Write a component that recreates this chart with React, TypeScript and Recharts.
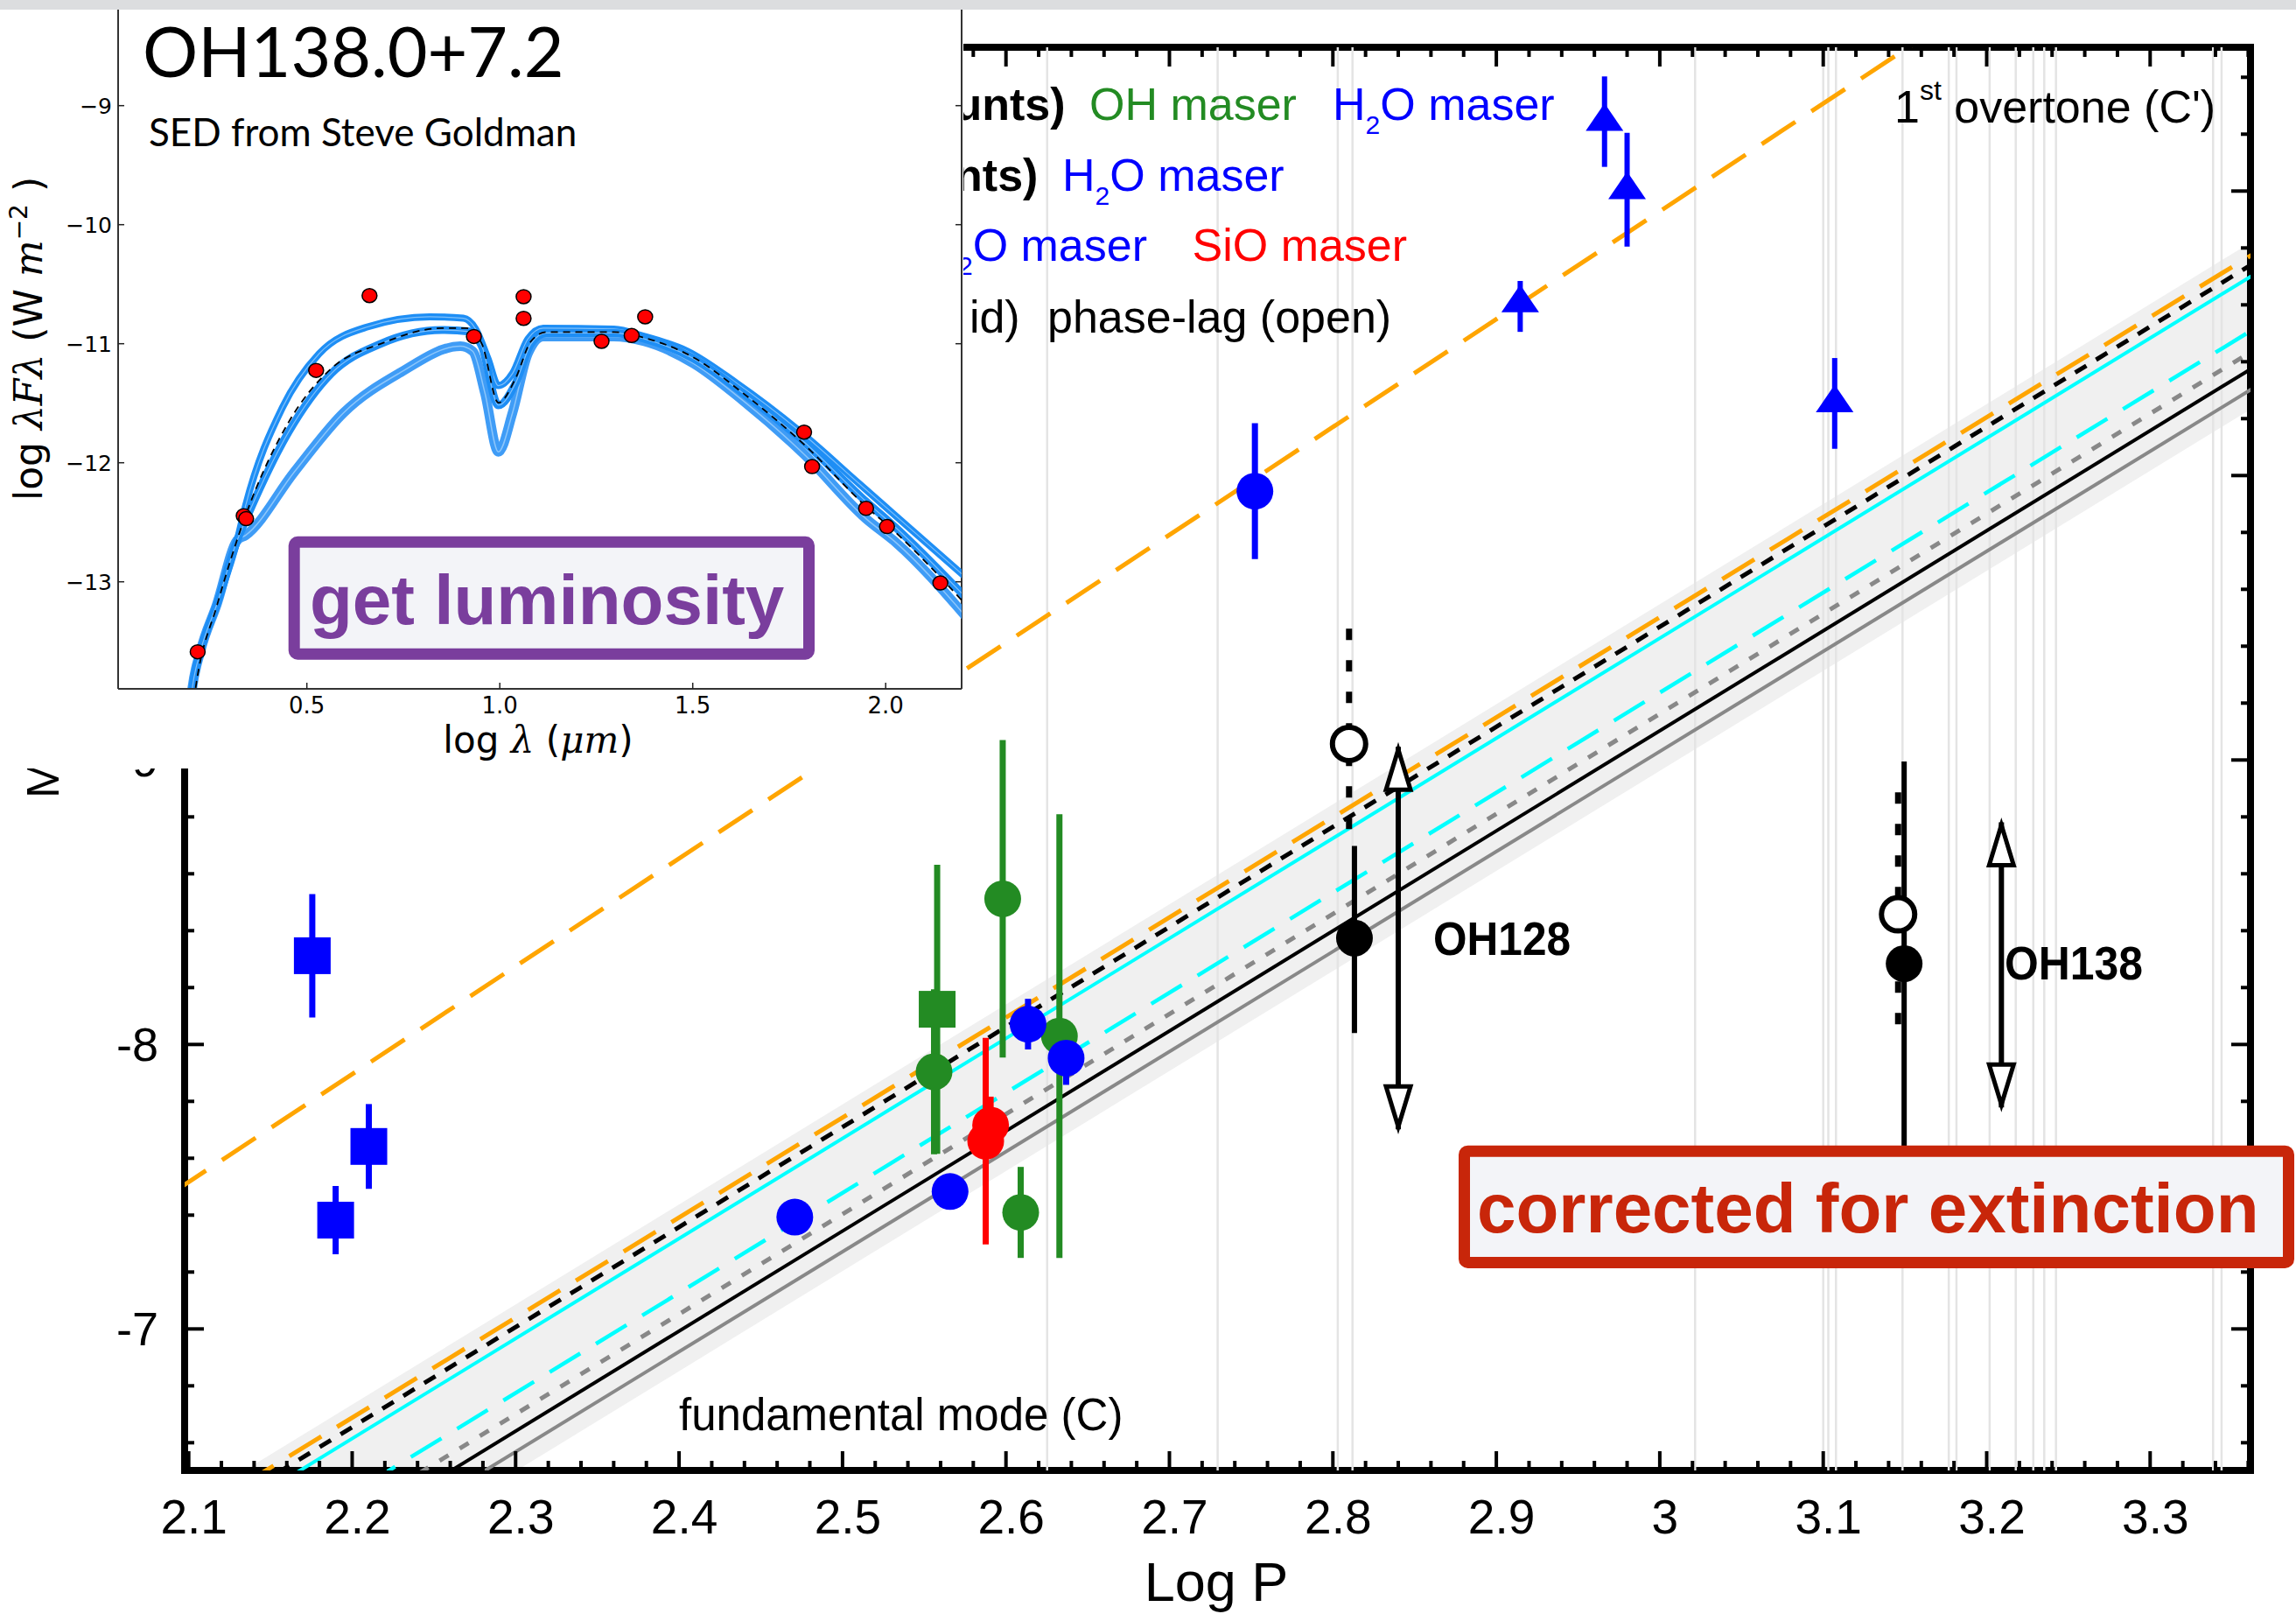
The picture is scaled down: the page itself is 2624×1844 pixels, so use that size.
import React from "react";
import {
  ComposedChart,
  Line,
  Scatter,
  Area,
  XAxis,
  YAxis,
  ErrorBar,
  ReferenceArea,
  ReferenceLine,
} from "recharts";

const SANS = "'Liberation Sans', Arial, Helvetica, sans-serif";
const DEJAVU = "'DejaVu Sans', sans-serif";
const SERIF_IT = "'DejaVu Serif', serif";
const LATO = "Lato, 'Open Sans', sans-serif";

// ---------------- main chart: axes ----------------
const X_DOMAIN: [number, number] = [2.0975, 3.3614];
const Y_DOMAIN: [number, number] = [-11.5055, -6.5025];

const xTicks = [
  2.1, 2.12, 2.14, 2.16, 2.18, 2.2, 2.22, 2.24, 2.26, 2.28, 2.3, 2.32, 2.34, 2.36, 2.38,
  2.4, 2.42, 2.44, 2.46, 2.48, 2.5, 2.52, 2.54, 2.56, 2.58, 2.6, 2.62, 2.64, 2.66, 2.68,
  2.7, 2.72, 2.74, 2.76, 2.78, 2.8, 2.82, 2.84, 2.86, 2.88, 2.9, 2.92, 2.94, 2.96, 2.98,
  3.0, 3.02, 3.04, 3.06, 3.08, 3.1, 3.12, 3.14, 3.16, 3.18, 3.2, 3.22, 3.24, 3.26, 3.28,
  3.3, 3.32, 3.34, 3.36,
];
const xLabelValues = [2.1, 2.2, 2.3, 2.4, 2.5, 2.6, 2.7, 2.8, 2.9, 3.0, 3.1, 3.2, 3.3];
const xLabelTexts = ["2.1", "2.2", "2.3", "2.4", "2.5", "2.6", "2.7", "2.8", "2.9", "3", "3.1", "3.2", "3.3"];

const yTicks = [
  -11.4, -11.2, -11, -10.8, -10.6, -10.4, -10.2, -10, -9.8, -9.6, -9.4, -9.2, -9, -8.8,
  -8.6, -8.4, -8.2, -8, -7.8, -7.6, -7.4, -7.2, -7, -6.8, -6.6,
];
const yMajorValues = [-11, -10, -9, -8, -7];
// -10 and -11 labels sit under the inset in the reference, only these are drawn
const yLabelValues = [-9, -8, -7];
const yLabelTexts = ["-9", "-8", "-7"];

// light vertical lines (periods)
const periodGrid = [
  2.6252, 2.7295, 2.803, 2.812, 3.0216, 3.1, 3.1031, 3.1078, 3.1485, 3.1768, 3.1815,
  3.2018, 3.2178, 3.2285, 3.2352, 3.2424, 3.3385, 3.3437,
];
const gridTop = -11.6;
const gridBottom = -6.4;

// grey PL band
const bandLogP = [2.09, 3.37];
const bandBright = [-6.3474, -10.849];
const bandFaint = [-5.7614, -10.263];

// PL relations (start / end points)
const plStartLogP = [2.1323, 2.1418, 2.1532, 2.2076, 2.2288, 2.2458, 2.2664];
const plStartMag = [-6.45, -6.45, -6.45, -6.45, -6.45, -6.45, -6.45];
const plEndLogP = [3.37, 3.37, 3.37, 3.37, 3.37, 3.37, 3.37];
const plEndMag = [-10.803, -10.7696, -10.7295, -10.5382, -10.4637, -10.4039, -10.3314];

// 1st overtone relation
const overtoneLogP = [2.09, 3.16];
const overtoneMag = [-7.4786, -11.5353];

// data points
const blueSqLogP = [2.1756, 2.1899, 2.2102];
const blueSqMag = [-8.312, -7.3825, -7.6415];
const blueSqErr = [0.217, 0.12, 0.149];

const greenSqLogP = [2.5579];
const greenSqMag = [-8.1237];
const greenSqErr = [0.508];

const greenCircLogP = [2.556, 2.598, 2.609, 2.6327];
const greenCircMag = [-7.904, -8.512, -7.4096, -8.0296];
const greenCircErr = [0.29, 0.558, 0.16, 0.78];

const blueCircLogP = [2.4708, 2.5658, 2.6135, 2.6368, 2.7523];
const blueCircMag = [-7.393, -7.483, -8.0714, -7.952, -9.945];
const blueCircErr = [0, 0, 0.089, 0.094, 0.239];

const redCircLogP = [2.5906, 2.5876];
const redCircMag = [-7.7166, -7.66];
const redCircErr = [0.1, 0.363];

const triLogP = [2.9662, 2.98, 2.9146, 3.107];
const triMag = [-11.259, -11.019, -10.622, -10.27];
const triErrBright = [0.144, 0.186, 0.062, 0.143];
const triErrFaint = [0.174, 0.214, 0.117, 0.176];

// OH128, OH138 (filled = solid bars, open = dashed bars)
const filledLogP = [2.8132, 3.1495];
const filledMag = [-8.374, -8.284];
const filledBarBright = [-8.698, -8.995];
const filledBarFaint = [-8.04, -7.573];

const openLogP = [2.8099, 3.1458];
const openMag = [-9.0566, -8.4575];
const openBarBright = [-9.4615, -8.886];
const openBarFaint = [-8.708, -8.041];

const arrowLogP = [2.84, 3.209];
const arrowBright = [-9.046, -8.781];
const arrowFaint = [-7.7015, -7.779];

// ---------------- inset (SED) ----------------
const I_X_DOMAIN: [number, number] = [0.0109, 2.1968];
const I_Y_DOMAIN: [number, number] = [-13.8993, -8.1934];
const iXTicks = [0.5, 1.0, 1.5, 2.0];
const iXLabels = ["0.5", "1.0", "1.5", "2.0"];
const iYTicks = [-13, -12, -11, -10, -9];
const iYLabels = ["\u221213", "\u221212", "\u221211", "\u221210", "\u22129"];

const sedLogLam = [0.217, 0.3363, 0.3426, 0.524, 0.6624, 0.9329, 1.0617, 1.0617, 1.2637, 1.3417, 1.3767, 1.7886, 1.8093, 1.9492, 2.0034, 2.1417];
const sedFlux = [-13.588, -12.445, -12.47, -11.224, -10.596, -10.939, -10.605, -10.787, -10.98, -10.931, -10.774, -11.743, -12.032, -12.383, -12.536, -13.01];

const modelUpperX = [0.19, 0.2033, 0.2239, 0.2669, 0.3194, 0.341, 0.4365, 0.532, 0.659, 0.818, 0.9057, 0.9376, 0.9694, 0.9964, 1.0331, 1.0728, 1.1125, 1.2955, 1.375, 1.4864, 1.6136, 1.7728, 1.9318, 2.0114, 2.21];
const modelUpperY = [-14.3, -13.889, -13.588, -13.188, -12.652, -12.363, -11.538, -11.083, -10.857, -10.774, -10.786, -10.877, -11.125, -11.352, -11.249, -10.96, -10.869, -10.877, -10.939, -11.063, -11.331, -11.723, -12.177, -12.404, -12.97];

const modelMidX = [0.19, 0.2033, 0.2239, 0.2669, 0.3194, 0.341, 0.4524, 0.5637, 0.6909, 0.8501, 0.9215, 0.9535, 0.9964, 1.041, 1.0807, 1.1204, 1.2955, 1.375, 1.5023, 1.6295, 1.7886, 1.9477, 2.0272, 2.21];
const modelMidY = [-14.3, -13.889, -13.588, -13.188, -12.652, -12.486, -11.743, -11.249, -11.001, -10.885, -10.898, -11.021, -11.517, -11.331, -11.001, -10.91, -10.91, -10.96, -11.125, -11.413, -11.826, -12.321, -12.548, -13.14];

const modelLowX = [0.19, 0.2033, 0.2239, 0.2669, 0.3194, 0.341, 0.4683, 0.5955, 0.7387, 0.8977, 0.9297, 0.9614, 0.9964, 1.0331, 1.0728, 1.1125, 1.2955, 1.375, 1.5023, 1.6295, 1.7886, 1.9477, 2.0272, 2.21];
const modelLowY = [-14.3, -13.889, -13.588, -13.188, -12.652, -12.61, -12.074, -11.579, -11.249, -11.021, -11.063, -11.413, -11.909, -11.579, -11.083, -10.939, -10.939, -10.98, -11.166, -11.476, -11.929, -12.466, -12.672, -13.3];

const bestFitX = [0.195, 0.2138, 0.2669, 0.341, 0.4524, 0.5637, 0.6909, 0.8501, 0.9136, 0.9535, 0.9964, 1.041, 1.0807, 1.1204, 1.2955, 1.375, 1.5023, 1.6295, 1.7886, 1.9477, 2.0272, 2.21];
const bestFitY = [-14.3, -13.848, -13.2, -12.445, -11.661, -11.207, -11.001, -10.869, -10.869, -11.001, -11.496, -11.29, -10.98, -10.902, -10.902, -10.951, -11.116, -11.413, -11.847, -12.363, -12.59, -13.2];

// ---------------- layout constants ----------------
const W = 2624;
const H = 1844;
const PL = 211, PR = 2572, PT = 54, PB = 1680;
const IL = 135, IR = 1099, IT = 11, IB = 787;

const close = (a: number, b: number) => Math.abs(a - b) < 1e-6;
const pts = (xs: number[], ys: number[]) => xs.map((x, i) => ({ x, y: ys[i] }));

const plStyles = [
  { stroke: "#ffa500", width: 5, dash: "43 21" },
  { stroke: "#000000", width: 5, dash: "15 13" },
  { stroke: "#00ffff", width: 4, dash: undefined },
  { stroke: "#00ffff", width: 4.5, dash: "41 21" },
  { stroke: "#888888", width: 5, dash: "12 15" },
  { stroke: "#000000", width: 4, dash: undefined },
  { stroke: "#888888", width: 4, dash: undefined },
];

const BLUE = "#0000ff";
const GREEN = "#238b23";
const RED = "#ff0000";

function MainXTick(props: any) {
  const { x, payload } = props;
  const v = payload.value;
  const idx = xLabelValues.findIndex((t) => close(t, v));
  const major = idx >= 0;
  const len = major ? 22 : 11;
  return (
    <g>
      <line x1={x} x2={x} y1={PB} y2={PB - len} stroke="#000" strokeWidth={4} />
      <line x1={x} x2={x} y1={PT} y2={PT + len} stroke="#000" strokeWidth={4} />
      {major && (
        <text x={x + 6} y={1752} textAnchor="middle" fontSize={55} fontFamily={SANS} fill="#000">
          {xLabelTexts[idx]}
        </text>
      )}
    </g>
  );
}

function MainYTick(props: any) {
  const { y, payload } = props;
  const major = yMajorValues.some((t) => close(t, payload.value));
  const idx = yLabelValues.findIndex((t) => close(t, payload.value));
  const len = major ? 22 : 11;
  return (
    <g>
      <line x1={PL} x2={PL + len} y1={y} y2={y} stroke="#000" strokeWidth={4} />
      <line x1={PR} x2={PR - len} y1={y} y2={y} stroke="#000" strokeWidth={4} />
      {idx >= 0 && (
        <text x={181} y={y + 19} textAnchor="end" fontSize={54} fontFamily={SANS} fill="#000">
          {yLabelTexts[idx]}
        </text>
      )}
    </g>
  );
}

function InsetXTick(props: any) {
  const { x, payload } = props;
  const idx = iXTicks.findIndex((t) => close(t, payload.value));
  return (
    <g>
      <line x1={x} x2={x} y1={IB} y2={IB - 7} stroke="#222" strokeWidth={1.5} />
      <text x={x} y={815} textAnchor="middle" fontSize={26} fontFamily={DEJAVU} fill="#000">
        {iXLabels[idx]}
      </text>
    </g>
  );
}

function InsetYTick(props: any) {
  const { y, payload } = props;
  const idx = iYTicks.findIndex((t) => close(t, payload.value));
  return (
    <g>
      <line x1={IL} x2={IL + 7} y1={y} y2={y} stroke="#222" strokeWidth={1.5} />
      <line x1={IR} x2={IR - 7} y1={y} y2={y} stroke="#222" strokeWidth={1.5} />
      <text x={128} y={y + 9} textAnchor="end" fontSize={25} fontFamily={DEJAVU} fill="#000">
        {iYLabels[idx]}
      </text>
    </g>
  );
}

const circle = (fill: string, r = 21) => (p: any) => <circle cx={p.cx} cy={p.cy} r={r} fill={fill} />;
const square = (fill: string) => (p: any) => <rect x={p.cx - 21} y={p.cy - 21} width={42} height={42} fill={fill} />;
const triangle = (p: any) => (
  <polygon points={`${p.cx},${p.cy - 16} ${p.cx - 21.5},${p.cy + 15.5} ${p.cx + 21.5},${p.cy + 15.5}`} fill={BLUE} />
);
const openCircle = (p: any) => <circle cx={p.cx} cy={p.cy} r={19} fill="#fff" stroke="#000" strokeWidth={6} />;
const upHead = (p: any) => (
  <polygon points={`${p.cx},${p.cy + 3} ${p.cx - 14},${p.cy + 49} ${p.cx + 14},${p.cy + 49}`} fill="#fff" stroke="#000" strokeWidth={5} />
);
const downHead = (p: any) => (
  <polygon points={`${p.cx},${p.cy - 3} ${p.cx - 14},${p.cy - 49} ${p.cx + 14},${p.cy - 49}`} fill="#fff" stroke="#000" strokeWidth={5} />
);

function MainChart() {
  const withErr = (xs: number[], ys: number[], es: number[]) => xs.map((x, i) => ({ x, y: ys[i], e: es[i] }));
  const triData = triLogP.map((x, i) => ({ x, y: triMag[i], e: [triErrBright[i], triErrFaint[i]] }));
  return (
    <ComposedChart width={W} height={H} margin={{ top: PT, right: W - PR, bottom: H - PB - 100, left: PL - 150 }}>
      <XAxis
        dataKey="x"
        type="number"
        domain={X_DOMAIN}
        allowDataOverflow
        ticks={xTicks}
        interval={0}
        tick={(p: any) => <MainXTick {...p} />}
        tickLine={false}
        axisLine={false}
        height={100}
      />
      <YAxis
        type="number"
        domain={Y_DOMAIN}
        reversed
        allowDataOverflow
        ticks={yTicks}
        interval={0}
        tick={(p: any) => <MainYTick {...p} />}
        tickLine={false}
        axisLine={false}
        width={150}
      />
      <Area
        data={bandLogP.map((x, i) => ({ x, band: [bandFaint[i], bandBright[i]] }))}
        dataKey="band"
        type="linear"
        stroke="none"
        fill="#f0f0f0"
        fillOpacity={1}
        isAnimationActive={false}
        activeDot={false}
      />
      {periodGrid.map((g, i) => (
        <Line
          key={"grid" + i}
          data={[{ x: g, y: gridTop }, { x: g, y: gridBottom }]}
          dataKey="y"
          type="linear"
          stroke="#e4e4e4"
          strokeWidth={2.5}
          dot={false}
          activeDot={false}
          isAnimationActive={false}
        />
      ))}
      {plStartLogP.map((x0, i) => (
        <Line
          key={"pl" + i}
          data={[{ x: x0, y: plStartMag[i] }, { x: plEndLogP[i], y: plEndMag[i] }]}
          dataKey="y"
          type="linear"
          stroke={plStyles[i].stroke}
          strokeWidth={plStyles[i].width}
          strokeDasharray={plStyles[i].dash}
          dot={false}
          activeDot={false}
          isAnimationActive={false}
        />
      ))}
      <Line
        data={pts(overtoneLogP, overtoneMag)}
        dataKey="y"
        type="linear"
        stroke="#ffa500"
        strokeWidth={5}
        strokeDasharray="46 22"
        dot={false}
        activeDot={false}
        isAnimationActive={false}
      />
      {filledLogP.map((x, i) => (
        <Line
          key={"fb" + i}
          data={[{ x, y: filledBarBright[i] }, { x, y: filledBarFaint[i] }]}
          dataKey="y"
          type="linear"
          stroke="#000"
          strokeWidth={6}
          dot={false}
          activeDot={false}
          isAnimationActive={false}
        />
      ))}
      {openLogP.map((x, i) => (
        <Line
          key={"ob" + i}
          data={[{ x, y: openBarBright[i] }, { x, y: openBarFaint[i] }]}
          dataKey="y"
          type="linear"
          stroke="#000"
          strokeWidth={7}
          strokeDasharray="13 23"
          dot={false}
          activeDot={false}
          isAnimationActive={false}
        />
      ))}
      {arrowLogP.map((x, i) => (
        <Line
          key={"ar" + i}
          data={[{ x, y: arrowBright[i] }, { x, y: arrowFaint[i] }]}
          dataKey="y"
          type="linear"
          stroke="#000"
          strokeWidth={6}
          dot={false}
          activeDot={false}
          isAnimationActive={false}
        />
      ))}
      <Scatter data={withErr(greenSqLogP, greenSqMag, greenSqErr)} dataKey="y" shape={square(GREEN)} isAnimationActive={false}>
        <ErrorBar dataKey="e" direction="y" width={0} stroke={GREEN} strokeWidth={7} isAnimationActive={false} />
      </Scatter>
      <Scatter data={withErr(greenCircLogP, greenCircMag, greenCircErr)} dataKey="y" shape={circle(GREEN)} isAnimationActive={false}>
        <ErrorBar dataKey="e" direction="y" width={0} stroke={GREEN} strokeWidth={7} isAnimationActive={false} />
      </Scatter>
      <Scatter data={withErr(redCircLogP, redCircMag, redCircErr)} dataKey="y" shape={circle(RED)} isAnimationActive={false}>
        <ErrorBar dataKey="e" direction="y" width={0} stroke={RED} strokeWidth={7} isAnimationActive={false} />
      </Scatter>
      <Scatter data={withErr(blueSqLogP, blueSqMag, blueSqErr)} dataKey="y" shape={square(BLUE)} isAnimationActive={false}>
        <ErrorBar dataKey="e" direction="y" width={0} stroke={BLUE} strokeWidth={7} isAnimationActive={false} />
      </Scatter>
      <Scatter data={withErr(blueCircLogP, blueCircMag, blueCircErr)} dataKey="y" shape={circle(BLUE)} isAnimationActive={false}>
        <ErrorBar dataKey="e" direction="y" width={0} stroke={BLUE} strokeWidth={7} isAnimationActive={false} />
      </Scatter>
      <Scatter data={triData} dataKey="y" shape={triangle} isAnimationActive={false}>
        <ErrorBar dataKey="e" direction="y" width={0} stroke={BLUE} strokeWidth={6} isAnimationActive={false} />
      </Scatter>
      <Scatter data={pts(openLogP, openMag)} dataKey="y" shape={openCircle} isAnimationActive={false} />
      <Scatter data={pts(filledLogP, filledMag)} dataKey="y" shape={circle("#000")} isAnimationActive={false} />
      <Scatter data={pts(arrowLogP, arrowBright)} dataKey="y" shape={upHead} isAnimationActive={false} />
      <Scatter data={pts(arrowLogP, arrowFaint)} dataKey="y" shape={downHead} isAnimationActive={false} />
      <ReferenceArea
        x1={X_DOMAIN[0]}
        x2={X_DOMAIN[1]}
        y1={Y_DOMAIN[0]}
        y2={Y_DOMAIN[1]}
        fill="none"
        fillOpacity={0}
        stroke="#000"
        strokeWidth={8}
        ifOverflow="visible"
      />
    </ComposedChart>
  );
}

function InsetChart() {
  const bundle = (xs: number[], ys: number[], key: string, w: number, color: string) => (
    <Line
      key={key}
      data={pts(xs, ys)}
      dataKey="y"
      type="monotone"
      stroke={color}
      strokeWidth={w}
      dot={false}
      activeDot={false}
      isAnimationActive={false}
    />
  );
  return (
    <ComposedChart width={IR + 2} height={878} margin={{ top: IT, right: 2, bottom: 0, left: 0 }}>
      <XAxis
        dataKey="x"
        type="number"
        domain={I_X_DOMAIN}
        allowDataOverflow
        ticks={iXTicks}
        interval={0}
        tick={(p: any) => <InsetXTick {...p} />}
        tickLine={false}
        axisLine={{ stroke: "#333", strokeWidth: 2 }}
        height={878 - IB}
      />
      <YAxis
        type="number"
        domain={I_Y_DOMAIN}
        allowDataOverflow
        ticks={iYTicks}
        interval={0}
        tick={(p: any) => <InsetYTick {...p} />}
        tickLine={false}
        axisLine={{ stroke: "#333", strokeWidth: 2 }}
        width={IL}
      />
      <ReferenceLine x={I_X_DOMAIN[1]} stroke="#333" strokeWidth={2} ifOverflow="visible" />
      {bundle(modelLowX, modelLowY, "low", 11, "#3f9cf6")}
      {bundle(modelLowX, modelLowY, "lowIn", 1.5, "#8cc6fb")}
      {bundle(modelUpperX, modelUpperY, "up", 8, "#1e8ef5")}
      {bundle(modelUpperX, modelUpperY, "upIn", 1.2, "#7fc0fb")}
      {bundle(modelMidX, modelMidY, "mid", 9, "#1e8ef5")}
      {bundle(modelMidX, modelMidY, "midIn", 1.2, "#7fc0fb")}
      <Line
        data={pts(bestFitX, bestFitY)}
        dataKey="y"
        type="monotone"
        stroke="#000"
        strokeWidth={1.8}
        strokeDasharray="8 6"
        dot={false}
        activeDot={false}
        isAnimationActive={false}
      />
      <Scatter
        data={pts(sedLogLam, sedFlux)}
        dataKey="y"
        shape={(p: any) => <ellipse cx={p.cx} cy={p.cy} rx={8.5} ry={8} fill="#ff0000" stroke="#000" strokeWidth={1.5} />}
        isAnimationActive={false}
      />
    </ComposedChart>
  );
}

function MainAnnotations() {
  const t = { fontFamily: SANS, fontSize: 52 } as const;
  return (
    <svg width={W} height={H} style={{ position: "absolute", left: 0, top: 0 }}>
      <text transform="translate(67,912) rotate(-90)" fontFamily={SANS} fontSize={52} fill="#000">
        M<tspan fontSize={34} dy={10}>K</tspan>
      </text>
      <text x={1217.5} y={137} textAnchor="end" fontWeight="bold" {...t} fill="#000">(maser counts)</text>
      <text x={1245} y={137} {...t} fill={GREEN}>OH maser</text>
      <text x={1523} y={137} {...t} fill={BLUE}>
        H<tspan fontSize={30} dy={16}>2</tspan>
        <tspan dy={-16}>O maser</tspan>
      </text>
      <text x={1186.4} y={218} textAnchor="end" fontWeight="bold" {...t} fill="#000">(new counts)</text>
      <text x={1214} y={218} {...t} fill={BLUE}>
        H<tspan fontSize={30} dy={16}>2</tspan>
        <tspan dy={-16}>O maser</tspan>
      </text>
      <text x={1311} y={298} textAnchor="end" {...t} fill={BLUE}>
        H<tspan fontSize={30} dy={16}>2</tspan>
        <tspan dy={-16}>O maser</tspan>
      </text>
      <text x={1362.5} y={298} {...t} fill={RED}>SiO maser</text>
      <text x={1165.7} y={380} textAnchor="end" {...t} fill="#000">PL (sol id)</text>
      <text x={1197} y={380} {...t} fill="#000">phase-lag (open)</text>
      <text x={2165} y={140} {...t} fill="#000">
        1<tspan fontSize={32} dy={-26}>st</tspan>
        <tspan dy={26}> overtone (C')</tspan>
      </text>
      <text x={776} y={1634} fontFamily={SANS} fontSize={51} fill="#000">fundamental mode (C)</text>
      <text x={1638} y={1091} fontFamily={SANS} fontSize={53} fontWeight="bold" textLength={157} lengthAdjust="spacingAndGlyphs" fill="#000">OH128</text>
      <text x={2291} y={1119} fontFamily={SANS} fontSize={53} fontWeight="bold" textLength={158} lengthAdjust="spacingAndGlyphs" fill="#000">OH138</text>
      <text x={1390} y={1829} textAnchor="middle" fontFamily={SANS} fontSize={63} fill="#000">Log P</text>
      <rect x={1673.5} y={1315.2} width={942} height={127.2} rx={4} fill="#f3f4f8" stroke="#c8260a" strokeWidth={13} />
      <text x={1688} y={1408} fontFamily={SANS} fontSize={80} fontWeight="bold" fill="#c8260a">corrected for extinction</text>
    </svg>
  );
}

function InsetAnnotations() {
  return (
    <svg width={IR + 2} height={878} style={{ position: "absolute", left: 0, top: 0 }}>
      <text x={163} y={88} fontFamily={LATO} fontSize={79} fill="#000">OH138.0+7.2</text>
      <text x={170} y={167} fontFamily={LATO} fontSize={44} fill="#000">SED from Steve Goldman</text>
      <text x={615} y={860} textAnchor="middle" fontFamily={DEJAVU} fontSize={42} fill="#000">
        log <tspan fontFamily={SERIF_IT} fontStyle="italic">λ</tspan> (<tspan fontFamily={SERIF_IT} fontStyle="italic">μm</tspan>)
      </text>
      <text transform="translate(48,387) rotate(-90)" textAnchor="middle" fontFamily={DEJAVU} fontSize={44} fill="#000">
        log <tspan fontFamily={SERIF_IT} fontStyle="italic">λFλ</tspan> (W <tspan fontFamily={SERIF_IT} fontStyle="italic">m</tspan>
        <tspan fontSize={28} dy={-17}>−2</tspan>
        <tspan dy={17}> )</tspan>
      </text>
      <rect x={336.2} y={619.3} width={588.3} height={127.9} rx={4} fill="#f3f4f8" stroke="#7a3e9d" strokeWidth={13} />
      <text x={354} y={713} fontFamily={SANS} fontSize={80} fontWeight="bold" fill="#7a3e9d">get luminosity</text>
    </svg>
  );
}

export default function App() {
  return (
    <div style={{ position: "absolute", left: 0, top: 0, width: W, height: H, background: "#fff", overflow: "hidden" }}>
      <div style={{ position: "absolute", left: 0, top: 0 }}>
        <MainChart />
      </div>
      <MainAnnotations />
      <div style={{ position: "absolute", left: 0, top: 0, width: IR + 2, height: 878, background: "#fff" }}>
        <div style={{ position: "absolute", left: 0, top: 0 }}>
          <InsetChart />
        </div>
        <InsetAnnotations />
      </div>
      <div style={{ position: "absolute", left: 0, top: 0, width: W, height: 11, background: "#dcdddf" }} />
    </div>
  );
}
